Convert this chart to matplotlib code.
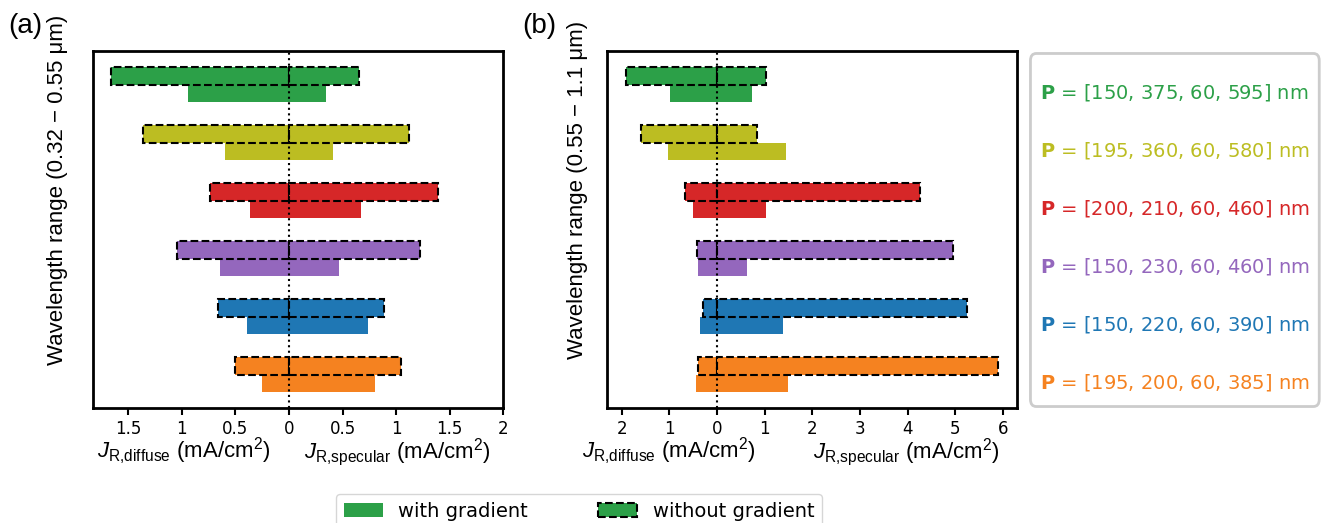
import numpy as np
import matplotlib
matplotlib.use("Agg")
import matplotlib.pyplot as plt
from matplotlib.patches import Patch, FancyBboxPatch
from matplotlib.ticker import FuncFormatter

plt.rcParams['mathtext.fontset'] = 'custom'
plt.rcParams['mathtext.rm'] = 'Liberation Sans'
plt.rcParams['mathtext.it'] = 'Liberation Sans:italic'

# order: bottom -> top
colors = ['#f58220', '#1f77b4', '#9467bd', '#d62728', '#bcbd22', '#2ca048']
params = ['[195, 200, 60, 385]', '[150, 220, 60, 390]', '[150, 230, 60, 460]',
          '[200, 210, 60, 460]', '[195, 360, 60, 580]', '[150, 375, 60, 595]']

# panel (a): 0.32-0.55 um
a_diff_grad = [0.25, 0.39, 0.64, 0.36, 0.60, 0.94]
a_spec_grad = [0.80, 0.74, 0.47, 0.67, 0.41, 0.35]
a_diff_nograd = [0.50, 0.66, 1.04, 0.74, 1.36, 1.66]
a_spec_nograd = [1.05, 0.89, 1.22, 1.39, 1.12, 0.65]

# panel (b): 0.55-1.1 um
b_diff_grad = [0.44, 0.36, 0.40, 0.50, 1.03, 0.99]
b_spec_grad = [1.48, 1.38, 0.64, 1.02, 1.44, 0.73]
b_diff_nograd = [0.40, 0.29, 0.42, 0.66, 1.59, 1.91]
b_spec_nograd = [5.90, 5.24, 4.95, 4.26, 0.85, 1.02]

panels = [
    dict(diff_g=a_diff_grad, spec_g=a_spec_grad, diff_n=a_diff_nograd, spec_n=a_spec_nograd,
         ylabel='Wavelength range (0.32 \u2212 0.55 \u03bcm)', xticks=np.arange(-1.5, 2.01, 0.5),
         xlim=(-1.825, 2.0), tag='(a)', left=93.3, lab_x=(0.221, 0.742), ylab_x=-0.062),
    dict(diff_g=b_diff_grad, spec_g=b_spec_grad, diff_n=b_diff_nograd, spec_n=b_spec_nograd,
         ylabel='Wavelength range (0.55 \u2212 1.1 \u03bcm)', xticks=np.arange(-2, 6.1, 1),
         xlim=(-2.3, 6.3), tag='(b)', left=607.3, lab_x=(0.150, 0.730), ylab_x=-0.047),
]

W, H = 1323, 523
fig = plt.figure(figsize=(W / 100, H / 100), dpi=100)
y = np.arange(len(colors))
h = 0.3

for p in panels:
    ax = fig.add_axes([p['left'] / W, 1 - 408.3 / H, 410 / W, 357.3 / H])
    # with gradient (solid)
    ax.barh(y - h / 2, -np.array(p['diff_g']), height=h, color=colors)
    ax.barh(y - h / 2, p['spec_g'], height=h, color=colors)
    # without gradient (dashed edge)
    ax.barh(y + h / 2, -np.array(p['diff_n']), height=h, color=colors,
            edgecolor='k', linestyle='--', linewidth=1.5)
    ax.barh(y + h / 2, p['spec_n'], height=h, color=colors,
            edgecolor='k', linestyle='--', linewidth=1.5)
    ax.axvline(0, color='k', linestyle=':', linewidth=1.5, zorder=5)
    ax.set_xlim(*p['xlim'])
    ax.set_xticks(p['xticks'])
    ax.xaxis.set_major_formatter(FuncFormatter(lambda v, pos: '%g' % abs(round(v, 2))))
    ax.set_yticks([])
    ax.tick_params(axis='x', labelsize=12, length=5, width=1.5)
    for s in ax.spines.values():
        s.set_linewidth(2)
    ax.set_ylabel(p['ylabel'], fontsize=16, family='Liberation Sans')
    ax.yaxis.set_label_coords(p['ylab_x'], 0.612)
    ax.text(p['lab_x'][0], -0.139, r'$J_{\rm R{,}diffuse}$ (mA/cm$^2$)', transform=ax.transAxes,
            ha='center', va='baseline', fontsize=16, family='Liberation Sans')
    ax.text(p['lab_x'][1], -0.139, r'$J_{\rm R{,}specular}$ (mA/cm$^2$)', transform=ax.transAxes,
            ha='center', va='baseline', fontsize=16, family='Liberation Sans')
    fig.text((p['left'] - 85) / W, 1 - 26 / H, p['tag'], fontsize=20,
             family='Liberation Sans', va='center')

# parameter box on the right
lax = fig.add_axes([1029 / W, 1 - 408.3 / H, 291.7 / W, 356.6 / H])
lax.axis('off')
lax.add_patch(FancyBboxPatch((0.005, 0.005), 0.99, 0.99, boxstyle='round,pad=0,rounding_size=0.02',
                             transform=lax.transAxes, facecolor='white', edgecolor='#cccccc',
                             linewidth=2, clip_on=False))
for i, (c, prm) in enumerate(zip(colors, params)):
    lax.text(0.038, 0.073 + 0.1624 * i, r'$\mathbf{P}$ = ' + prm + ' nm', color=c,
             fontsize=14, va='center', ha='left', transform=lax.transAxes)

handles = [Patch(facecolor=colors[-1], label='with gradient'),
           Patch(facecolor=colors[-1], edgecolor='k', linestyle='--', linewidth=1.5,
                 label='without gradient')]
fig.legend(handles=handles, loc='upper center', bbox_to_anchor=(579 / W, 1 - 494 / H),
           ncol=2, fontsize=14, columnspacing=3.6, frameon=True, borderaxespad=0)

fig.savefig('out.png', dpi=100)
